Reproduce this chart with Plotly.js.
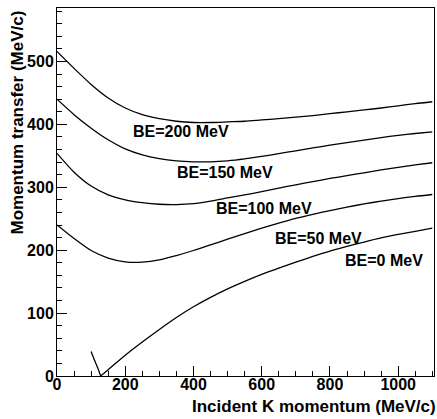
<!DOCTYPE html>
<html>
<head>
<meta charset="utf-8">
<script src="https://cdn.plot.ly/plotly-3.0.1.min.js"></script>
<style>html,body{margin:0;padding:0;background:#fff;}#chart{width:437px;height:419px;}</style>
</head>
<body>
<div id="chart"></div>
<script>
// Incident K momentum (MeV/c) sample points
const xBE200 = [0,50,100,150,200,250,300,350,400,450,500,550,600,650,700,750,800,850,900,950,1000,1050,1100];
const yBE200 = [516,489,463.5,442,426,415.5,409,405,403,403,404,405,407,409,411.5,414,417,420,423,426,429.5,433,436];

const xBE150 = [0,50,100,150,200,250,300,350,400,450,500,550,600,650,700,750,800,850,900,950,1000,1050,1100];
const yBE150 = [440,415.5,394,375.5,361,351.5,345.5,342,340.5,340.5,342,345,349,353.5,358,362.5,367,371,375,379,382.5,385.5,388];

const xBE100 = [0,50,100,150,200,250,300,350,400,450,500,550,600,650,700,750,800,850,900,950,1000,1050,1100];
const yBE100 = [354,324,302,288,280,275.5,273,272.5,274,278,283,288,293,298.5,304,309,314,318.5,323,327.5,331.5,335.5,339];

const xBE50 = [0,50,100,150,200,250,300,350,400,450,500,550,600,650,700,750,800,850,900,950,1000,1050,1100];
const yBE50 = [240,218.5,199.5,187.5,181.5,181,184.5,191.5,199.5,208.5,217.5,226.5,235,243,250.5,257,263,268.5,273.5,278,282,285.5,288.5];

const xBE0a = [100,110,120,128];
const yBE0a = [39,25,12,0];
const xBE0b = [128,150,200,250,300,350,400,450,500,550,600,650,700,750,800,850,900,950,1000,1050,1100];
const yBE0b = [0,10,33,54,74,93,110,125,138.5,150.5,161.5,171.5,181,190,198.5,206,213,219.5,225,230,235];

const labelText = ["BE=200 MeV","BE=150 MeV","BE=100 MeV","BE=50 MeV","BE=0 MeV"];
const labelX = [216,345,460,633,837];
const labelY = [389,323,267,219,184];

const lineStyle = {color:'#000', width:1.3, shape:'spline', smoothing:0.7};
const mk = (x,y) => ({x:x, y:y, type:'scatter', mode:'lines', line:lineStyle, hoverinfo:'skip', showlegend:false});

const data = [mk(xBE200,yBE200), mk(xBE150,yBE150), mk(xBE100,yBE100), mk(xBE50,yBE50), mk(xBE0a,yBE0a), mk(xBE0b,yBE0b)];

const fam = '"Liberation Sans", Arial, Helvetica, sans-serif';
const annotations = labelText.map((t,i)=>({
  text:t, x:labelX[i], y:labelY[i], xref:'x', yref:'y', xanchor:'left', yanchor:'middle',
  showarrow:false, font:{family:fam, size:16, color:'#000', weight:'bold'}
}));
annotations.push({text:'Incident K momentum (MeV/c)', xref:'paper', yref:'paper', x:1, y:0,
  xanchor:'right', yanchor:'middle', xshift:4, yshift:-30, showarrow:false,
  font:{family:fam, size:17, color:'#000', weight:'bold'}});
annotations.push({text:'Momentum transfer (MeV/c)', xref:'paper', yref:'paper', x:0, y:1,
  xanchor:'center', yanchor:'top', xshift:-40.5, yshift:-1, textangle:-90, showarrow:false,
  font:{family:fam, size:17, color:'#000', weight:'bold'}});

const layout = {
  width:437, height:419,
  margin:{l:57, r:3, t:8, b:43, pad:0},
  paper_bgcolor:'#fff', plot_bgcolor:'#fff',
  showlegend:false,
  xaxis:{range:[0,1105], tick0:0, dtick:200, ticks:'inside', ticklen:10, tickwidth:1, tickcolor:'#000',
    showline:true, linecolor:'#000', linewidth:1, mirror:true, showgrid:false, zeroline:false,
    ticklabelstandoff:-6,
    tickfont:{family:fam, size:16, color:'#000', weight:'bold'},
    minor:{dtick:50, ticks:'inside', ticklen:5, tickcolor:'#000', showgrid:false}},
  yaxis:{range:[0,585], tick0:0, dtick:100, ticks:'inside', ticklen:10, tickwidth:1, tickcolor:'#000',
    showline:true, linecolor:'#000', linewidth:1, mirror:true, showgrid:false, zeroline:false,
    ticklabelstandoff:-1,
    tickfont:{family:fam, size:16, color:'#000', weight:'bold'},
    minor:{dtick:20, ticks:'inside', ticklen:5, tickcolor:'#000', showgrid:false}},
  annotations:annotations
};

Plotly.newPlot('chart', data, layout, {staticPlot:true, displayModeBar:false});
</script>
</body>
</html>
